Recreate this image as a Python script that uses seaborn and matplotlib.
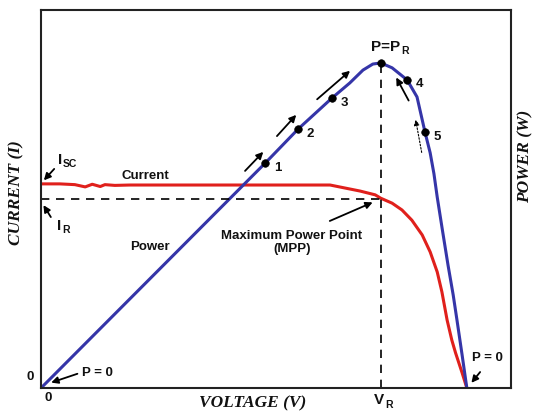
import matplotlib
matplotlib.use('Agg')
import matplotlib.pyplot as plt
import seaborn as sns
import pandas as pd

# Power curve (voltage in % of axis, power in % of axis)
power_v = [0, 47.7, 54.7, 61.9, 65.7, 68.5, 70.6, 72.3, 74.7, 77.9, 80.0,
           81.7, 82.8, 83.6, 84.3, 85.4, 86.6, 87.7, 88.5, 89.6, 90.6]
power_p = [0, 59.5, 68.5, 76.7, 80.7, 84.1, 85.7, 86.0, 84.7, 81.5, 77.0,
           67.7, 62.2, 56.7, 50.5, 41.8, 32.5, 24.6, 18.0, 8.7, 0]

# Current curve
current_v = [0, 4.0, 7.2, 9.4, 10.9, 12.6, 13.6, 15.7, 18.9, 61.5, 64.7, 67.9,
             71.1, 72.3, 74.7, 76.8, 78.9, 81.1, 82.8, 84.3, 85.3, 86.4, 87.4,
             88.2, 89.6, 90.6]
current_i = [54.0, 54.0, 53.8, 53.2, 53.9, 53.3, 53.8, 53.6, 53.7, 53.7, 52.9,
             52.1, 51.1, 50.2, 48.9, 47.1, 44.4, 40.5, 36.0, 30.7, 25.4, 18.0,
             12.7, 9.3, 4.0, 0]

# Marked operating points on the power curve
point_v = [47.7, 54.7, 61.9, 72.3, 77.9, 81.7]
point_p = [59.5, 68.5, 76.7, 86.0, 81.5, 67.7]
point_labels = ['1', '2', '3', '', '4', '5']

v_r = 72.3
i_r = 50.0

sns.set_style('white')
plt.rcParams['font.family'] = ['Liberation Sans', 'DejaVu Sans']

power_df = pd.DataFrame({'V': power_v, 'P': power_p})
current_df = pd.DataFrame({'V': current_v, 'I': current_i})
points_df = pd.DataFrame({'V': point_v, 'P': point_p})

fig = plt.figure(figsize=(5.37, 4.13), dpi=100)
ax = fig.add_axes([0.0764, 0.0605, 0.8752, 0.9153])

sns.lineplot(data=current_df, x='V', y='I', sort=False, estimator=None,
             color='#e0201c', lw=2.2, ax=ax)
sns.lineplot(data=power_df, x='V', y='P', sort=False, estimator=None,
             color='#3535a8', lw=2.2, ax=ax)
sns.scatterplot(data=points_df, x='V', y='P', color='black', s=30,
                edgecolor='black', zorder=5, ax=ax)

# reference dashed lines
ax.plot([0, v_r], [i_r, i_r], color='black', lw=1.2, dashes=(5, 4))
ax.plot([v_r, v_r], [0, power_p[power_v.index(v_r)]], color='black', lw=1.2, dashes=(5, 4))

ax.set_xlim(0, 100)
ax.set_ylim(0, 100)
ax.set_xticks([])
ax.set_yticks([])
ax.set_xlabel('')
ax.set_ylabel('')
for s in ax.spines.values():
    s.set_color('#222222')
    s.set_linewidth(1.5)

bold = dict(fontsize=9.5, fontweight='bold', color='#111111')
arrow = dict(arrowstyle='-|>', color='black', lw=1.3, mutation_scale=10)


def sub_label(x, y, main, sub, ha='left'):
    # main letter(s) plus a smaller subscript hung off its lower right corner
    t = ax.text(x, y, main, ha=ha, va='center', fontsize=11, fontweight='bold',
                color='#111111', clip_on=False)
    ax.annotate(sub, xy=(1, 0), xycoords=t, xytext=(0.5, -1.5),
                textcoords='offset points', ha='left', va='bottom',
                fontsize=7.5, fontweight='bold', color='#111111',
                annotation_clip=False)
    return t


for v, p, lab in zip(point_v, point_p, point_labels):
    if lab:
        ax.text(v + 2.6, p - 1.2, lab, ha='center', va='center', **bold)

# direction arrows along the power curve
arrow_pairs = [((43.0, 56.9), (47.7, 63.0)), ((49.8, 66.1), (54.7, 72.8)),
               ((58.3, 75.9), (66.2, 84.4)), ((78.5, 75.4), (75.3, 82.8))]
for tail, head in arrow_pairs:
    ax.annotate('', xy=head, xytext=tail, arrowprops=arrow)
ax.annotate('', xy=(79.6, 71.7), xytext=(81.1, 61.6),
            arrowprops=dict(arrowstyle='-|>', color='black', lw=0.8,
                            ls=(0, (1.5, 1.5)), mutation_scale=8))

sub_label(3.6, 60.3, 'I', 'SC')
ax.annotate('', xy=(0.2, 54.4), xytext=(3.2, 58.5), arrowprops=arrow)
sub_label(3.4, 42.8, 'I', 'R')
ax.annotate('', xy=(0.2, 49.0), xytext=(2.4, 44.6), arrowprops=arrow)

ax.text(22.3, 56.1, 'Current', ha='center', va='center', **bold)
ax.text(23.2, 37.3, 'Power', ha='center', va='center', **bold)
ax.text(53.4, 38.6, 'Maximum Power Point\n(MPP)', ha='center', va='center',
        linespacing=1.1, **bold)
ax.annotate('', xy=(71.1, 49.4), xytext=(60.9, 43.9), arrowprops=arrow)
sub_label(70.3, 90.3, 'P=P', 'R')

ax.text(11.9, 4.0, 'P = 0', ha='center', va='center', **bold)
ax.annotate('', xy=(1.6, 1.2), xytext=(8.3, 4.0), arrowprops=arrow)
ax.text(94.9, 7.9, 'P = 0', ha='center', va='center', **bold)
ax.annotate('', xy=(91.2, 0.8), xytext=(93.8, 4.8), arrowprops=arrow)

ax.text(-2.2, 3.0, '0', ha='center', va='center', clip_on=False, **bold)
ax.text(1.5, -2.7, '0', ha='center', va='center', clip_on=False, **bold)
sub_label(v_r - 1.4, -3.3, 'V', 'R')

serif = dict(family='Liberation Serif', fontsize=12.5, fontweight='bold',
             style='italic', color='#111111')
ax.text(45.1, -4.2, 'VOLTAGE (V)', ha='center', va='center', clip_on=False, **serif)
ax.text(-5.2, 51.6, 'CURRENT (I)', ha='center', va='center', rotation=90,
        clip_on=False, **serif)
ax.text(103.0, 61.4, 'POWER (W)', ha='center', va='center', rotation=90,
        clip_on=False, **serif)

fig.savefig('out.png', dpi=100)
